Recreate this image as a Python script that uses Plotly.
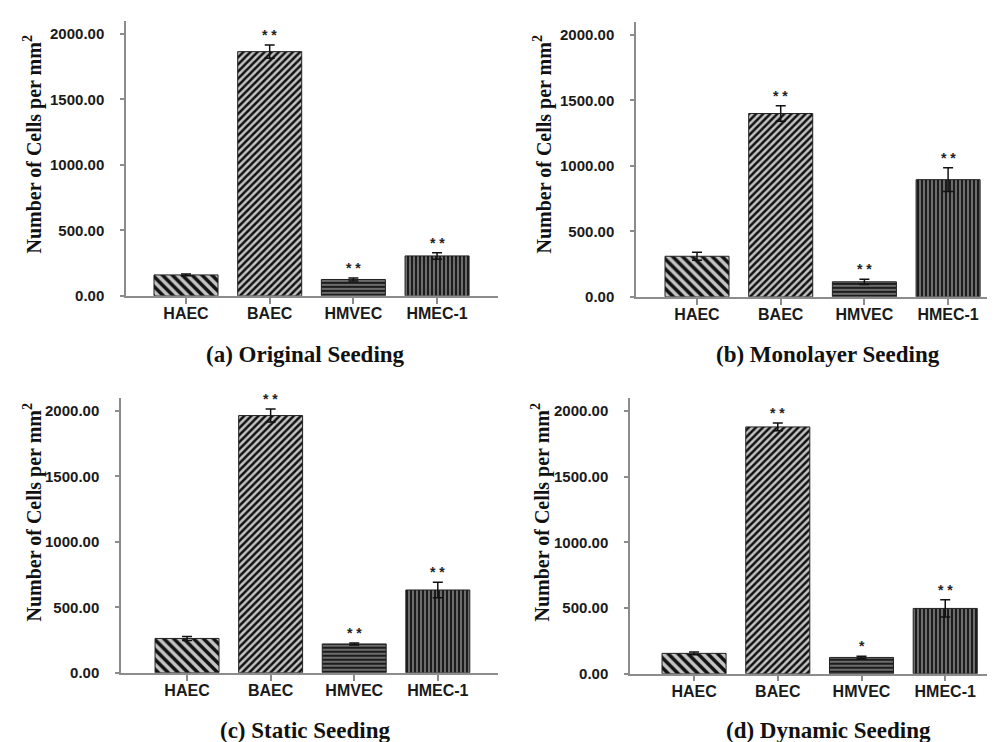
import plotly.graph_objects as go

categories = ["HAEC", "BAEC", "HMVEC", "HMEC-1"]

original_vals = [160, 1865, 125, 305]
original_err = [6, 50, 12, 25]
original_sig = ["", "* *", "* *", "* *"]

monolayer_vals = [310, 1400, 115, 895]
monolayer_err = [30, 60, 20, 90]
monolayer_sig = ["", "* *", "* *", "* *"]

static_vals = [262, 1964, 220, 632]
static_err = [15, 50, 8, 60]
static_sig = ["", "* *", "* *", "* *"]

dynamic_vals = [155, 1878, 124, 497]
dynamic_err = [10, 30, 10, 66]
dynamic_sig = ["", "* *", "*", "* *"]

panel_titles = ["(a) Original Seeding", "(b) Monolayer Seeding",
                "(c) Static Seeding", "(d) Dynamic Seeding"]
y_title = "Number of Cells per mm<sup>2</sup>"
y_ticks = [0, 500, 1000, 1500, 2000]

W, H = 995, 742

panels = [
    dict(vals=original_vals, err=original_err, sig=original_sig,
         x=(118, 490), y=(13, 291), xr=(-0.717, 3.728), tx=297, ty=350, yx=25, yy=138),
    dict(vals=monolayer_vals, err=monolayer_err, sig=monolayer_sig,
         x=(628, 995), y=(14, 292), xr=(-0.729, 3.656), tx=820, ty=350, yx=535, yy=138),
    dict(vals=static_vals, err=static_err, sig=static_sig,
         x=(113, 490), y=(394, 672), xr=(-0.79, 3.72), tx=297, ty=730, yx=25, yy=510),
    dict(vals=dynamic_vals, err=dynamic_err, sig=dynamic_sig,
         x=(622, 995), y=(394, 673), xr=(-0.765, 3.69), tx=820, ty=730, yx=533, yy=510),
]

shapes_pat = ["\\", "/", "-", "|"]
pat_fg = ["#111111", "#111111", "#1c1c1c", "#1c1c1c"]
pat_bg = ["#c4c4c4", "#c4c4c4", "#8e8e8e", "#8e8e8e"]
pat_size = [7, 5, 4, 4]
pat_sol = [0.5, 0.5, 0.65, 0.65]

fig = go.Figure()
annotations = []
layout = {}
for i, p in enumerate(panels):
    k = "" if i == 0 else str(i + 1)
    xa, ya = "x" + k, "y" + k
    for j, c in enumerate(categories):
        fig.add_trace(go.Bar(
            x=[c], y=[p["vals"][j]], xaxis=xa, yaxis=ya, width=0.765,
            marker=dict(color=pat_bg[j], line=dict(color="#222222", width=1),
                        pattern=dict(shape=shapes_pat[j], fgcolor=pat_fg[j],
                                     bgcolor=pat_bg[j], size=pat_size[j],
                                     solidity=pat_sol[j], fillmode="replace")),
            error_y=dict(type="data", array=[p["err"][j]], visible=True, color="#111111",
                         thickness=1.5, width=5),
            showlegend=False,
        ))
    layout["xaxis" + k] = dict(
        domain=[p["x"][0] / W, p["x"][1] / W], anchor=ya, range=list(p["xr"]),
        categoryorder="array", categoryarray=categories,
        showline=True, linecolor="#8c8c8c", linewidth=1.5, ticks="outside",
        ticklen=6, tickcolor="#8c8c8c", tickwidth=1.5, showgrid=False, zeroline=False,
        tickfont=dict(family="Liberation Sans, Arial", size=16, color="#1a1a1a", weight="bold"),
        ticklabelstandoff=-4, fixedrange=True,
    )
    layout["yaxis" + k] = dict(
        domain=[1 - p["y"][1] / H, 1 - p["y"][0] / H], anchor=xa, range=[0, 2100],
        showline=True, linecolor="#8c8c8c", linewidth=1.5, ticks="outside",
        ticklen=4, tickcolor="#8c8c8c", tickwidth=1.5, showgrid=False, zeroline=False,
        tickvals=y_ticks, tickformat=".2f",
        tickfont=dict(family="Liberation Sans, Arial", size=15, color="#1a1a1a", weight="bold"),
        ticklabelstandoff=13, fixedrange=True,
    )
    for c, v, e, s in zip(categories, p["vals"], p["err"], p["sig"]):
        if s:
            annotations.append(dict(x=c, y=v + e, xref=xa, yref=ya, text=s,
                                    showarrow=False, yanchor="bottom", yshift=0,
                                    font=dict(family="Liberation Sans, Arial", size=14,
                                              color="#222222", weight="bold")))
    annotations.append(dict(x=p["tx"] / W, y=1 - p["ty"] / H, xref="paper", yref="paper",
                            text=panel_titles[i], showarrow=False,
                            xanchor="center", yanchor="middle",
                            font=dict(family="Liberation Serif, Times New Roman", size=23,
                                      color="#111111", weight="bold")))
    annotations.append(dict(x=p["yx"] / W, y=1 - p["yy"] / H, xref="paper", yref="paper",
                            text=y_title, showarrow=False, textangle=-90,
                            xanchor="center", yanchor="middle",
                            font=dict(family="Liberation Serif, Times New Roman", size=20,
                                      color="#111111", weight="bold")))

fig.update_layout(
    width=W, height=H, margin=dict(l=0, r=0, t=0, b=0),
    paper_bgcolor="white", plot_bgcolor="white", barmode="overlay",
    annotations=annotations, **layout,
)
fig.write_html("out.html")
